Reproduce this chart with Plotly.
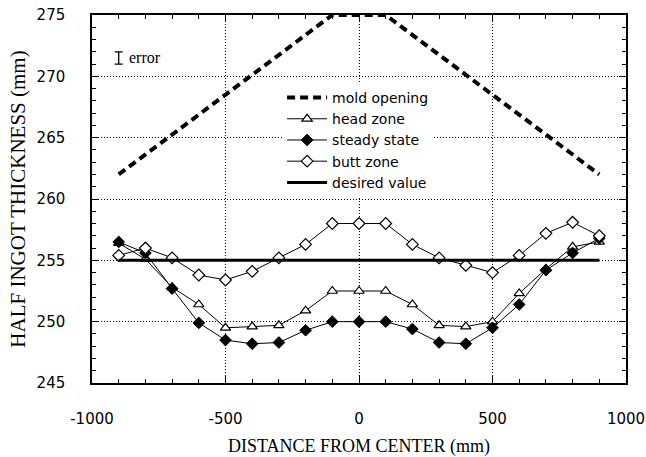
import plotly.graph_objects as go

# ---- data ----
distance = [-900, -800, -700, -600, -500, -400, -300, -200, -100, 0,
            100, 200, 300, 400, 500, 600, 700, 800, 900]
head_zone = [256.4, 255.1, 252.8, 251.4, 249.5, 249.6, 249.7, 250.9, 252.5, 252.5,
             252.5, 251.4, 249.7, 249.6, 250.0, 252.3, 254.3, 256.1, 256.5]
steady_state = [256.5, 255.6, 252.7, 249.9, 248.5, 248.2, 248.3, 249.3, 250.0, 250.0,
                250.0, 249.4, 248.3, 248.2, 249.5, 251.4, 254.2, 255.6, 256.8]
butt_zone = [255.4, 256.0, 255.2, 253.8, 253.4, 254.1, 255.2, 256.3, 258.0, 258.0,
             258.0, 256.3, 255.2, 254.6, 254.0, 255.4, 257.2, 258.1, 257.0]
mold_x = [-900, -100, 100, 900]
mold_opening = [262, 275, 275, 262]
desired_x = [-900, 900]
desired_value = [255, 255]
error_x = [-900]
error_y = [271.5]
error_half = [0.5]

x_ticks = [-1000, -500, 0, 500, 1000]
x_tick_labels = ["-1000", "-500", "0", "500", "1000"]
y_ticks = [245, 250, 255, 260, 265, 270, 275]
y_tick_labels = ["245", "250", "255", "260", "265", "270", "275"]

SANS = "DejaVu Sans"
SERIF = "Liberation Serif"

fig = go.Figure()

fig.add_trace(go.Scatter(
    x=mold_x, y=mold_opening, mode="lines", name="mold opening",
    line=dict(color="black", width=4, dash="8px,5px")))
fig.add_trace(go.Scatter(
    x=distance, y=head_zone, mode="lines+markers", name="head zone",
    line=dict(color="black", width=1),
    marker=dict(symbol="triangle-up", size=9, color="white",
                line=dict(color="black", width=1.2))))
fig.add_trace(go.Scatter(
    x=distance, y=steady_state, mode="lines+markers", name="steady state",
    line=dict(color="black", width=1),
    marker=dict(symbol="diamond", size=9, color="black",
                line=dict(color="black", width=1))))
fig.add_trace(go.Scatter(
    x=distance, y=butt_zone, mode="lines+markers", name="butt zone",
    line=dict(color="black", width=1),
    marker=dict(symbol="diamond", size=9, color="white",
                line=dict(color="black", width=1.2))))
fig.add_trace(go.Scatter(
    x=desired_x, y=desired_value, mode="lines", name="desired value",
    line=dict(color="black", width=3)))
fig.add_trace(go.Scatter(
    x=error_x, y=error_y, mode="markers", showlegend=False,
    marker=dict(size=1, color="rgba(0,0,0,0)"),
    error_y=dict(type="data", array=error_half, visible=True,
                 color="black", thickness=1.3, width=4)))

fig.add_annotation(x=error_x[0], y=error_y[0], text="error", showarrow=False,
                   xanchor="left", yanchor="middle", xshift=8,
                   font=dict(family=SERIF, size=16, color="black"))

axis_common = dict(
    showline=True, linecolor="black", linewidth=1.5, mirror="allticks",
    ticks="inside", ticklen=7, tickcolor="black", tickwidth=1,
    showgrid=True, gridcolor="black", gridwidth=1, griddash="1px,2px",
    zeroline=False, automargin=False, ticklabeloverflow="allow",
    tickfont=dict(family=SANS, size=15, color="black"),
)

fig.update_xaxes(
    range=[-1000, 1000], tickvals=x_ticks, ticktext=x_tick_labels,
    ticklabelstandoff=21,
    minor=dict(dtick=100, ticks="inside", ticklen=4, tickcolor="black", showgrid=False),
    title=dict(text="DISTANCE FROM CENTER (mm)", standoff=15,
               font=dict(family=SERIF, size=18, color="black")),
    **axis_common)
fig.update_yaxes(
    range=[245, 275], tickvals=y_ticks, ticktext=y_tick_labels,
    ticklabelstandoff=22,
    minor=dict(dtick=1, ticks="inside", ticklen=4, tickcolor="black", showgrid=False),
    title=dict(text="HALF INGOT THICKNESS (mm)", standoff=5,
               font=dict(family=SERIF, size=21, color="black")),
    **axis_common)

fig.update_layout(
    width=646, height=457,
    margin=dict(l=92, r=20, t=15, b=74),
    plot_bgcolor="white", paper_bgcolor="white",
    legend=dict(x=0.356, y=0.818, xanchor="left", yanchor="top",
                bgcolor="white", borderwidth=0,
                font=dict(family=SANS, size=14, color="black"),
                tracegroupgap=0, itemwidth=40),
)

# remove the browser's default 8px page margin so the figure fills the window
fig.write_html("out.html", config={"displayModeBar": False},
               post_script="document.body.style.margin='0';document.body.style.overflow='hidden';")
